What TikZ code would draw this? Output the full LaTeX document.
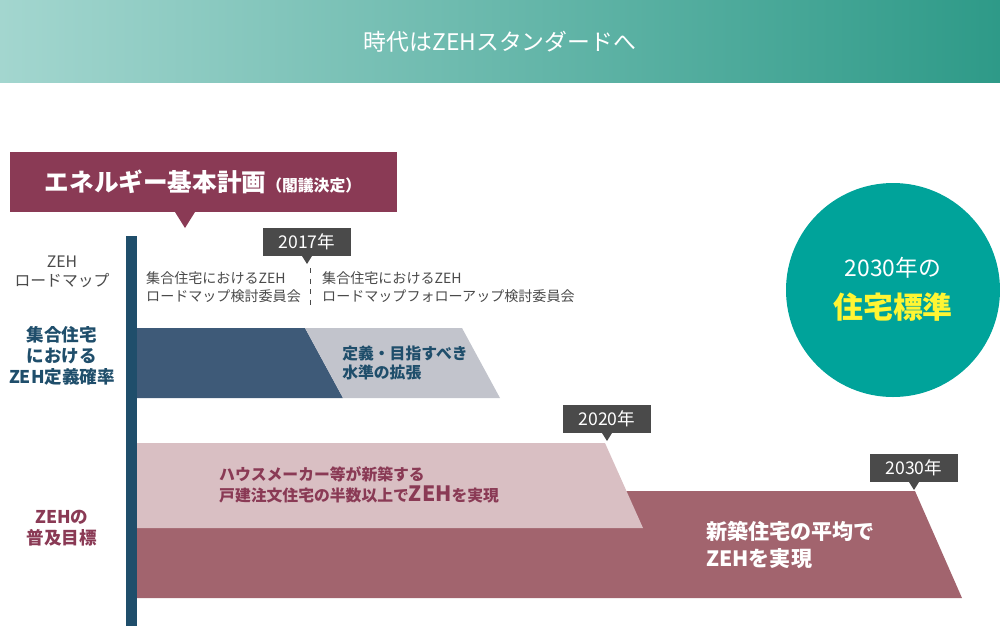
\documentclass[tikz,border=0pt]{standalone}
\usepackage{fontspec}
\setmainfont{Noto Sans CJK JP}
\usetikzlibrary{positioning,calc,shapes.geometric}
\definecolor{teal1}{HTML}{A3D6CF}
\definecolor{teal2}{HTML}{2E9A88}
\definecolor{circ}{HTML}{00A39A}
\definecolor{maroon}{HTML}{8A3A55}
\definecolor{navy}{HTML}{1F4E6B}
\definecolor{navyfill}{HTML}{3E5A78}
\definecolor{greyfill}{HTML}{C2C4CC}
\definecolor{pinkfill}{HTML}{D9BFC3}
\definecolor{rosefill}{HTML}{A2646E}
\definecolor{tagcol}{HTML}{4A4A4A}
\tikzset{
  tag/.style={fill=tagcol, text=white, minimum width=1.76cm, minimum height=0.56cm, inner sep=0pt, font=\fontsize{10}{10}\selectfont},
  lbl/.style={align=center, font=\bfseries\fontsize{10}{12}\selectfont},
  small/.style={align=left, anchor=west, text=tagcol, font=\fontsize{8}{10}\selectfont}
}
\begin{document}
\begin{tikzpicture}[x=0.02cm,y=-0.02cm]
\useasboundingbox (0,0) rectangle (1000,626);
% banner
\shade[left color=teal1, right color=teal2] (0,0) rectangle (1000,82);
\node[text=white, font=\fontsize{13}{13}\selectfont] (title) at (500,42) {時代はZEHスタンダードへ};
% plan box
\fill[maroon] (10,152) rectangle (397,212);
\fill[maroon] (175,212) -- (195,212) -- (185,228) -- cycle;
\node[text=white] (plan) at (203,182) {\bfseries\fontsize{14}{14}\selectfont エネルギー基本計画\fontsize{9}{9}\selectfont（閣議決定）};
% axis
\fill[navy] (126,236) rectangle (137,626);
\node[lbl, text=tagcol, font=\fontsize{9}{11}\selectfont] (road) at (62,272) {ZEH\\ロードマップ};
\node[lbl, text=navy] (rate) at (62,356) {集合住宅\\における\\ZEH定義確率};
\node[lbl, text=maroon] (goal) at (62,528) {ZEHの\\普及目標};
% roadmap
\node[tag] (t17) at (307,242) {2017年};
\fill[tagcol] (302,256) -- (312,256) -- (307,264) -- cycle;
\node[small] (c1) at (140,287) {集合住宅におけるZEH\\ロードマップ検討委員会};
\node[small] (c2) at (316,287) {集合住宅におけるZEH\\ロードマップフォローアップ検討委員会};
\draw[tagcol, dashed, thin] (310,268) -- (310,305);
% definition bars
\fill[navyfill] (137,328) -- (305,328) -- (343,398) -- (137,398) -- cycle;
\fill[greyfill] (305,328) -- (462,328) -- (500,398) -- (343,398) -- cycle;
\node[lbl, text=navy, align=left, font=\bfseries\fontsize{9}{11}\selectfont] (ext) at (405,363) {定義・目指すべき\\水準の拡張};
% goal bars
\fill[rosefill] (137,491) -- (915,491) -- (962,598) -- (137,598) -- cycle;
\fill[pinkfill] (137,443) -- (605,443) -- (643,528) -- (137,528) -- cycle;
\node[tag] (t20) at (607,419) {2020年};
\fill[tagcol] (602,433) -- (612,433) -- (607,441) -- cycle;
\node[tag] (t30) at (914,468) {2030年};
\fill[tagcol] (909,482) -- (919,482) -- (914,490) -- cycle;
\node[lbl, text=maroon, align=left, anchor=west, font=\bfseries\fontsize{9}{12}\selectfont] (g20) at (213,485) {ハウスメーカー等が新築する\\戸建注文住宅の半数以上で{\fontsize{12}{12}\selectfont ZEH}を実現};
\node[lbl, text=white, align=left, anchor=west, font=\bfseries\fontsize{12}{15}\selectfont] (g30) at (700,545) {新築住宅の平均で\\ZEHを実現};
% circle
\fill[circ] (893,290) circle (107);
\node[text=white, font=\fontsize{13}{13}\selectfont] (std1) at (893,268) {2030年の};
\node[text=yellow!80!white, font=\bfseries\fontsize{17}{17}\selectfont] (std2) at (893,307) {住宅標準};
\end{tikzpicture}
\end{document}
